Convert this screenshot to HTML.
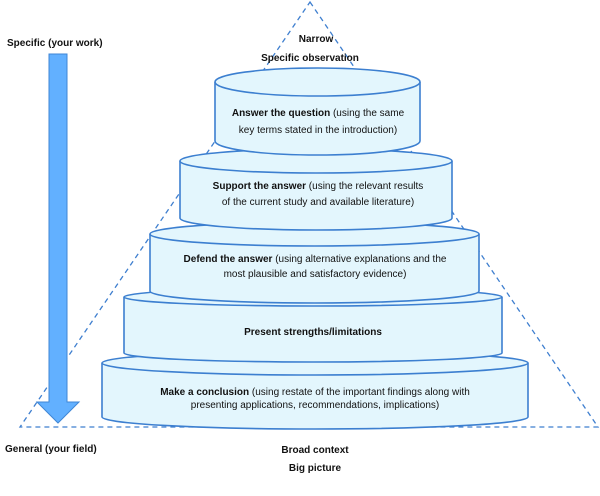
<!DOCTYPE html>
<html><head><meta charset="utf-8"><style>
html,body{margin:0;padding:0;background:#fff}
svg text{font-family:"Liberation Sans",sans-serif;font-size:10px;fill:#111}
.b{font-weight:bold}
</style></head><body>
<svg width="600" height="491" viewBox="0 0 600 491" xmlns="http://www.w3.org/2000/svg">
<polygon points="310,2 598,427 20,427" fill="none" stroke="#3f7fcf" stroke-width="1.3" stroke-dasharray="5,4"/>
<path d="M49,54 H67 V402 H79 L58,423 L37,402 H49 Z" fill="#62b0ff" stroke="#3f86d6" stroke-width="1"/>
<g fill="#e3f6fd" stroke="#3c7fd0" stroke-width="1.6">
<path d="M102,363 V417 A213,12 0 0 0 528,417 V363"/><ellipse cx="315" cy="363" rx="213" ry="12"/>
<path d="M124,297 V353 A189,9 0 0 0 502,353 V297"/><ellipse cx="313" cy="297" rx="189" ry="9"/>
<path d="M150,234 V291 A164.5,12 0 0 0 479,291 V234"/><ellipse cx="314.5" cy="234" rx="164.5" ry="12"/>
<path d="M180,161 V218 A136,12 0 0 0 452,218 V161"/><ellipse cx="316" cy="161" rx="136" ry="12"/>
<path d="M215,82 V141 A102.5,14 0 0 0 420,141 V82"/><ellipse cx="317.5" cy="82" rx="102.5" ry="14"/>
</g>
<text x="7" y="46" class="b">Specific (your work)</text>
<text x="5" y="452" class="b">General (your field)</text>
<g text-anchor="middle">
<text x="316" y="42" class="b">Narrow</text>
<text x="310" y="61" class="b">Specific observation</text>
<text x="318" y="116"><tspan class="b">Answer the question</tspan> (using the same</text>
<text x="318" y="133">key terms stated in the introduction)</text>
<text x="318" y="189"><tspan class="b">Support the answer</tspan> (using the relevant results</text>
<text x="318" y="205">of the current study and available literature)</text>
<text x="315" y="262"><tspan class="b">Defend the answer</tspan> (using alternative explanations and the</text>
<text x="315" y="277">most plausible and satisfactory evidence)</text>
<text x="313" y="335" class="b">Present strengths/limitations</text>
<text x="315" y="395"><tspan class="b">Make a conclusion</tspan> (using restate of the important findings along with</text>
<text x="315" y="408">presenting applications, recommendations, implications)</text>
<text x="315" y="453" class="b">Broad context</text>
<text x="315" y="471" class="b">Big picture</text>
</g>
</svg>
</body></html>
